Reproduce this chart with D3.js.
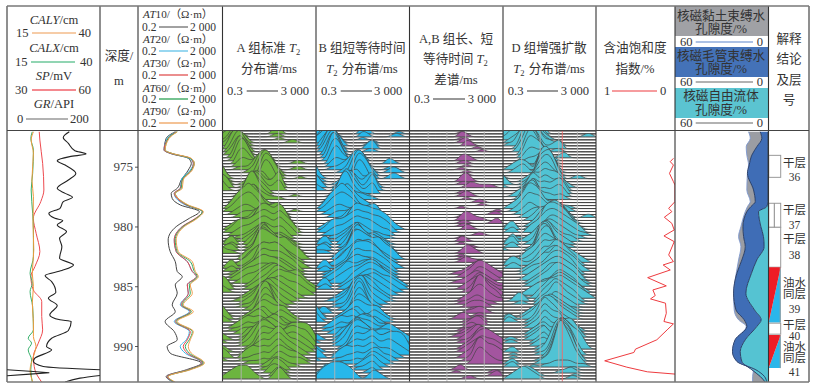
<!DOCTYPE html>
<html>
<head>
<meta charset="utf-8">
<script src="https://cdn.jsdelivr.net/npm/d3@7"></script>
<style>
body { margin: 0; background: #fff; }
text { font-family: "Liberation Serif", "Noto Sans CJK SC", serif; fill: #333; }
</style>
</head>
<body>
<script>
// log curves
var grDepth = [972.08,972.55,973.05,973.66,973.94,974.16,974.5,974.86,975.56,976.11,976.81,977.23,977.56,977.92,978.48,978.9,979.32,979.51,979.87,980.43,980.99,981.69,982.66,983.22,983.69,984.11,984.61,985.5,986,986.62,987.4,987.81,987.95,988.7,989.35,990.04,990.32,991.02,991.3,991.71,991.99];
var grValues = [134,121,132,146,170,135,108,125,148,132,108,125,141,121,114,90,103,120,108,128,113,118,113,143,118,82,96,105,89,108,92,114,138,132,96,85,96,60,57,78,200];
// GR runs off scale near the bottom and wraps round the track
var grWrapDepth = [991.99,992.13,992.24,992.35,992.49];
var grWrapValues = [0,57,91,49,0];
var grEndDepth = [992.47,992.69,993.02];
var grEndValues = [200,157,125];

var spDepth = [972.08,972.77,974.72,976.95,977.92,979.32,980.57,982.1,983.36,984.19,985.31,986.28,987.53,988.65,989.76,990.88,991.99,993.02];
var spValues = [40.4,40.6,41.5,41.9,40.9,38.5,39.4,40.6,39,37.7,38.5,41.2,41.2,41.5,40.1,38.5,39,41.2];

var calxDepth = [972.08,972.63,973.61,975.56,976.95,978.9,980.29,982.52,983.91,984.75,985.45,986.7,988.65,989.35,989.76,990.32,991.16,991.99,993.02];
var calxValues = [21.8,21.4,22.1,21.9,21.5,21.9,22.1,22.1,21.2,21.8,21.2,21.9,22.1,20.7,21.6,20.7,21.6,21.4,21.8];
var calyDepth = [972.08,972.77,973.89,976.11,977.51,979.74,981.96,983.91,985.03,986.42,988.09,989.21,990.04,990.88,991.99,993.02];
var calyValues = [22.1,21.5,22.1,21.7,22.1,22,22.2,21.8,22.1,21.8,22.1,22.1,22.8,22.1,21.2,21.9];

var atDepth = [972.08,972.63,973.61,973.89,974.3,974.72,975.28,976.11,976.81,977.23,977.65,978.2,978.76,979.32,980.01,981.13,982.1,982.94,983.77,984.19,984.89,985.58,986.56,987.12,987.95,988.79,989.48,990.04,990.6,991.43,991.99,992.55,993.02];
var at10 = [11.6,4.3,3.46,6.68,48,66.8,48,22.3,14.4,7.46,8.32,20,161,53.6,12.9,5.36,6.68,11.6,14.4,24.9,11.6,14.4,8.32,11.6,3.86,10.4,14.4,4.8,6.68,200,38.6,4.3,9.28];
var at20 = [12.9,4.8,3.46,7.46,53.6,83.2,59.8,22.3,20,10.4,12.9,34.6,223,116,24.9,10.4,12.9,43,74.6,116,43,48,20,53.6,10.4,53.6,38.6,20,34.6,223,48,4.8,9.28];
var at30 = [12.9,5.36,3.46,7.46,59.8,83.2,66.8,24.9,20,10.4,14.4,38.6,223,104,24.9,10.4,12.9,43,74.6,116,43,48,22.3,59.8,11.6,59.8,43,27.8,43,223,48,4.8,10.4];
var at60 = [14.4,5.36,3.86,8.32,59.8,92.8,66.8,24.9,22.3,11.6,16.1,43,223,116,27.8,11.6,14.4,59.8,92.8,129,53.6,59.8,24.9,66.8,12.9,74.6,53.6,34.6,53.6,249,53.6,5.36,10.4];
var at90 = [14.4,5.98,3.86,8.32,66.8,92.8,74.6,27.8,24.9,11.6,16.1,48,249,129,31,12.9,16.1,74.6,104,144,59.8,74.6,27.8,83.2,14.4,83.2,59.8,48,66.8,278,59.8,5.36,11.6];

var oilDepth = [974.3,974.58,974.86,975.56,976.25,976.53,977.79,977.92,978.48,978.76,979.23,979.74,980.29,980.79,981.27,982.38,982.94,983.22,983.64,984.28,984.97,985.31,985.78,986.06,986.42,987.26,987.95,988.15,988.59,989.48,990.26,990.54,991.24,991.77,992.16,992.35];
var oilValues = [0.02,0.06,0.02,0.07,0.02,0,0,0,0.08,0.04,0.135,0.04,0.01,0.14,0.01,0.08,0.02,0.15,0.06,0.346,0.11,0.28,0.25,0.31,0.12,0.11,0.14,0.02,0.09,0.23,0.5,0.52,0.89,0.61,0.35,0];

// NMR porosity, cumulative from the right edge
var nmrDepth = [972.08,972.63,973.33,974.03,974.86,975.56,976.95,977.92,978.34,978.76,980.01,980.85,981.69,982.8,983.91,985.58,986.98,987.81,988.37,989.48,990.46,991.29,991.99,992.55,993.02];
var nmrFree = [0.4,0.4,0.4,0.4,0.4,0.4,0.4,0.4,1.1,6.4,4.9,3.2,2.8,7.5,10.9,14.5,9,4.7,7.5,14.9,18.1,17.1,10.7,5.3,2.1];
var nmrCapillary = [5.3,4.3,7.5,10.7,12.4,13.5,9.6,8.5,11.3,13.9,16.4,16,14.9,17.1,20.3,22.4,20.9,15.6,13.9,21.4,23.1,20.3,8.1,2.6,1.1];
var nmrClay = [12.8,11.7,14.3,13.9,12.8,13.5,13.9,11.7,13.5,14.9,17.7,19.2,17.7,19.2,20.7,22.4,22,19.2,14.3,21.4,23.1,20.3,9.6,10.2,10.2];

// interpretation layers
var layerTop = [974.05,978.06,980.07,983.41,988.09,989.07];
var layerBottom = [975.89,980.07,983.41,988.04,989.01,991.85];
var layerKind = ["dry","dry","dry","oilwater","dry","oilwater"];
var depthTicks = [975,980,985,990];
var t2Grid = [1.893,11.95,75.4,475.5];

// T2 spectra: one string per sampled depth (0.25 m apart), one hex digit of amplitude per T2 bin
var specA = ["0110000000110000000","1221000000220000000","1232100000110000000","2343200000010000000","1254310000000110000","1254310000000000000","0265410000000000000","0147520000000000000","0136520000000000000","0027630000000000000","0016741022000000000","0004531131000011000","0002322453100000000","0001113565200011000","0000012676310000000","3000001587420000000","4100000387520001000","2100000276300000000","3200123441230000000","4300135532360000000","3100146531240000000","0000267431000000000","0001378421000010000","0001235321110000000","0012346310000000000","0023457421000000000","0135686521000000000","0124565310000010000","0012332110221000000","0001222333432000000","0000113454553000000","0000012565664100000","0011123676775200000","0123334787686310000","0124445676575420000","0012334565464310000","0001123454343100000","0120123563232100000","0230023574332110000","0120013685443210000","1220012686534320000","2110002797645431000","0000123897656432000","0000234998767543100","0000134565654321000","0001235676765321000","0230123787876432100","0120023676665431000","0011234565554321000","0012345676654321000","0012344555443210000","0001233456654332100","3200012456765443210","4300012345776565321","2100001235676655321","0000012335565443210","0000123456654321000","0001123567543210000","0000123676532100000","0000112587421000000","0000012698310000000","0000001587422000000","3100012476533100000","4200123565444210000","2100123453243210000","0001234542132100000","0012343432231000000","0011232333542222100","0001222345653333310","0000133456764444430","2100124567654555541","1000135686544666652","0000124787645665531","0000012676654554320","2100012565786443210","1000123454675432100","3200234343564321000","1000112232454332100","0000011121343222100","0000000012332110000","0000100011432000000","0011210002321000000","0123321000231000000","1234442100242000000"];
var specB = ["0120000002100000000","1231000003200000100","2343100002100001100","1354200001000000000","2355310000010000000","0246420000120000000","0157510000230000000","0147620000110000000","0037620000000000000","0028730000000000000","0016741023000000000","0004632132000021000","0002322453100000000","0001123565200011000","0000012676310012100","2000001587420000000","4100000387520012100","2100001276300000000","3100124452330000000","4200135532451000000","2100246631361000000","0000268531240000000","0001378421100000000","0001235322110000000","0012346321000000000","0023457532100000000","0135686521000000000","0124565421000000000","0012332210121000000","0001222343232000000","0000113454454100000","0000012565565210000","0011123676676321000","0123334787766542100","0124445676655431000","0012334565543220000","0001123454322110000","0120123562232100000","0230023574332110000","0120013685443210000","1220012686534320000","1110002797645431000","0000123887656432000","0000234898767543100","0000134576764321000","0001235687765321000","0230123788876432100","0120023676665431000","0011234565554321000","0012345676654321000","0012346556665321000","0001234556776432100","0230012456776543210","0120012345665443210","0000001235565432100","0000012346654321000","0000123467653210000","0001123678543210000","0000123789532100000","0000112698421000000","0110012598310000000","0220001487422000000","2100012476533100000","4200123565444210000","3100123453243210000","0001234542132100000","0012343432231000000","0011232343542221000","0001222456653332100","0000133567664443210","2100124676654454321","1000135686544565432","0000124787645554321","0000012676654455431","2100012565675566652","1000123454564454321","3200234343453332100","1000112232344221000","0000011121343210000","0000000012342100000","0000200011231000000","0121321000120000000","1243432100010000000","1345554310132100000"];
var specC = ["0000000000000000000","0000000000100000000","0000000000210000000","0000000000100000000","0000000000120000000","0000000000021000000","0000000000000100000","0000000000000010000","0000000000000000000","0000000000010000000","0000000000221000000","0000000000110000000","0000000000010000000","0000000000100000000","0000000000010000000","0000000000010000000","0000000000000000000","0000000000231000000","0000000000110000000","0000000000012111100","0000000000000000000","0000000000110000000","0000000000121000000","0000000000010000000","0000000000000110000","0000000000000010000","0000000000100000000","0000000000000000010","0000000000000000110","0000000000111000000","0000000000232110000","0000000000110000120","0000000000110000000","0000000000021000000","0000000000000000000","0000000000000110000","0000000000100000000","0000000000210000000","0000000000100000000","0000000000001000000","0000000000011000000","0000000000132100000","0000000000100000000","0000000000110000000","0000000000121100000","0000000000000000000","0000000000001221000","0000000000012332000","0000000001123443211","0000000000123554321","0000000000012443210","0000000001123432100","0000000000012443211","0000000000123443211","0000000000012553210","0000000000001664321","0000000000012774320","0000000000123553211","0000000000112321100","0000000000012221000","0000000000001110000","0000000000011221000","0000000000100110000","0000000001220110000","0000000000011220000","0000000000012320000","0000000000012100000","0000000000110000000","0000000000122221000","0000000001123432100","0000000000123543210","0000000000112454321","0000000000012565432","0000000000123566543","0000000000123454432","0000000000012553321","0000000000123664432","0000000000012775543","0000000000001553211","0000000000000000000","0000000001200000000","0000000001000000110","0000000000000000120","0000000000011000000"];
var specD = ["0120133220000000000","1231244320000000000","2232355420000000110","1243465421000000000","0123576421000000000","0114687522120000000","0002786411230000000","0002597410110000000","0000487420000000000","0000376530012000000","0000244342100000000","0000122353100000000","0012210465200000000","0123320576300000000","0012310687410000000","0000000798510000000","1000012789620011000","2000123688510000000","3100124576431000000","1000135465542100000","0000146354343000000","0001235343453000000","0012346232342000000","0001457322121000000","0001467211000000000","0012578421100000000","0123587632211100000","0012465532222100000","0001243222342000000","0000123334543100110","0000012445653200000","0000001356764210000","0110012467875310000","0230012378876421000","0120023467765432000","0000001346654321100","0001012456543211000","0130123566432210000","0230012677432100000","0120001687321100000","1000012787321000000","0000012898432100000","0000123799543210000","0000234687654321000","0121123576765432100","0232112465876431000","0121012356765321000","0000123465876542100","0000123346776531000","0000012345665431000","0000123456776542000","0000012346665431100","0000012345776542100","0000001233565431000","0000012344565432100","0000123445676543100","0002101346676543210","0013200245765431000","0001100234764321000","0000000123543210000","0000001235432110000","0000012346543210000","0100123466543210000","0210123577643210000","0210012586532100000","0000012475441000000","0000012364331110000","0000001253243321000","0000012342254531000","0000012341265642000","0110012352376531000","0110001241387531000","0000001231498641000","0000000121499765200","01200001259a9630000","00100001138ba852000","00100000137ca941000","00000001137da952000","01200001238eb842000","0120001011222211100","0000010000000110000","0000210000011210000","0012332100000010000","0123432100000110000"];

var width = 818, height = 389;
var plotTop = 131, plotBottom = 382;
var cols = [7,100,138,222.5,316,409.5,503,596,675,768.5,809];

var svg = d3.select("body").append("svg")
    .attr("width", width)
    .attr("height", height)
    .style("display", "block");

var y = d3.scaleLinear().domain([975,990]).range([166.7,346]);

// helper for header text, *x* is italic and _2 a subscript
function label(x, yy, str, anchor, size) {
    var t = svg.append("text").attr("x", x).attr("y", yy)
        .attr("text-anchor", anchor || "middle")
        .style("font-size", (size || 12.6) + "px");
    str.split(/(\*[^*]+\*|_\d)/).forEach(function(part) {
        if (!part) return;
        var s = t.append("tspan");
        if (part[0] == "*") {
            s.style("font-style", "italic").text(part.slice(1,-1));
        } else if (part[0] == "_") {
            s.attr("dy", 3).style("font-size", "8.5px").text(part.slice(1));
            t.append("tspan").attr("dy", -3).text("\u200a");
        } else {
            s.text(part);
        }
    });
}
function rule(x1, x2, yy, color, w) {
    svg.append("line").attr("x1", x1).attr("x2", x2).attr("y1", yy).attr("y2", yy)
        .attr("stroke", color).attr("stroke-width", w || 1.1);
}
// one "low --- high" scale row in the header
function scaleRow(lo, xLo, x1, x2, hi, xHi, yy, color, w, size) {
    label(xLo, yy, lo, "start", size);
    rule(x1, x2, yy - 4, color, w);
    label(xHi, yy, hi, "start", size);
}

var defs = svg.append("defs");
function clipFor(id, x0, x1) {
    defs.append("clipPath").attr("id", id).append("rect")
        .attr("x", x0).attr("y", plotTop).attr("width", x1 - x0).attr("height", plotBottom - plotTop);
}

// ---- track 1: caliper, SP, GR
var grX = d3.scaleLinear().domain([0,200]).range([cols[0],cols[1]]);
var spX = d3.scaleLinear().domain([30,60]).range([cols[0],cols[1]]);
var calX = d3.scaleLinear().domain([15,40]).range([cols[0],cols[1]]);
clipFor("clip1", cols[0], cols[1]);
var g1 = svg.append("g").attr("clip-path", "url(#clip1)");

function curve(g, depths, values, xs, color, w, shape) {
    var line = d3.line()
        .x(function(d) { return xs(values[d]); })
        .y(function(d) { return y(depths[d]); })
        .curve(shape || d3.curveMonotoneY);
    g.append("path").datum(d3.range(depths.length))
        .attr("d", line).attr("fill", "none")
        .attr("stroke", color).attr("stroke-width", w);
}
curve(g1, spDepth, spValues, spX, "#ee4a4f", 1);
curve(g1, calxDepth, calxValues, calX, "#35b06a", 1);
curve(g1, calyDepth, calyValues, calX, "#ee9a3c", 1);
curve(g1, grDepth, grValues, grX, "#222", 1.1);
curve(g1, grWrapDepth, grWrapValues, grX, "#222", 1.1, d3.curveLinear);
curve(g1, grEndDepth, grEndValues, grX, "#222", 1.1);

// ---- depth axis
svg.append("g")
    .attr("transform", "translate(" + cols[2] + ",0)")
    .call(d3.axisLeft(y).tickValues(depthTicks).tickSize(3).tickPadding(2).tickFormat(d3.format("d")))
    .call(function(g) {
        g.select(".domain").remove();
        g.selectAll("line").attr("stroke", "#555");
        g.selectAll("text").style("font-size", "13px").style("fill", "#444");
    });

// ---- track 3: resistivity
var atX = d3.scaleLog().domain([0.2,2000]).range([cols[2],cols[3]]);
clipFor("clip3", cols[2], cols[3]);
var g3 = svg.append("g").attr("clip-path", "url(#clip3)");
curve(g3, atDepth, at10, atX, "#444", 1);
curve(g3, atDepth, at20, atX, "#35b4e6", 1);
curve(g3, atDepth, at30, atX, "#e8424a", 1);
curve(g3, atDepth, at60, atX, "#2fa85f", 1);
curve(g3, atDepth, at90, atX, "#f0a050", 1);

// ---- T2 spectra tracks
var rowDepths = d3.range(972, 993, 0.25);
var ampY = d3.scaleLinear().domain([0,9]).range([0,31]);

function spectrum(id, rows, x0, x1, color) {
    var xs = d3.scaleLog().domain([0.3,3000]).range([x0,x1]);
    var binT2 = d3.range(19).map(function(i) { return xs.invert(x0 + (x1 - x0) * i / 18); });
    clipFor(id, x0, x1);
    var g = svg.append("g").attr("clip-path", "url(#" + id + ")");
    var area = d3.area()
        .x(function(d) { return xs(d.t2); })
        .y0(function(d) { return d.base; })
        .y1(function(d) { return d.base - ampY(d.amp); })
        .curve(d3.curveBasis);
    var rowG = g.selectAll("g").data(rows).enter().append("g");
    rowG.append("line")
        .attr("x1", x0).attr("x2", x1)
        .attr("y1", function(d, i) { return y(rowDepths[i]); })
        .attr("y2", function(d, i) { return y(rowDepths[i]); })
        .attr("stroke", "#3a3a3a").attr("stroke-width", 0.85);
    rowG.append("path")
        .attr("d", function(d, i) {
            var base = y(rowDepths[i]);
            return area(binT2.map(function(t, k) {
                return { t2: t, base: base, amp: parseInt(d[k], 16) || 0 };
            }));
        })
        .attr("fill", color)
        .attr("stroke", "#444")
        .attr("stroke-width", 0.7);
    // grid shows through the fill
    g.selectAll(".grid").data(t2Grid).enter().append("line")
        .attr("class", "grid")
        .attr("x1", function(d) { return xs(d); })
        .attr("x2", function(d) { return xs(d); })
        .attr("y1", plotTop).attr("y2", plotBottom)
        .attr("stroke", "#b5b5b5").attr("stroke-width", 1.2).attr("opacity", 0.75);
}
spectrum("clipA", specA, cols[3], cols[4], "#6cb53f");
spectrum("clipB", specB, cols[4], cols[5], "#27b7ea");
spectrum("clipC", specC, cols[5], cols[6], "#a3559f");
spectrum("clipD", specD, cols[6], cols[7], "#50c3d4");
// cut-off line in the D track
svg.append("line").attr("x1", 562.3).attr("x2", 562.3).attr("y1", plotTop).attr("y2", plotBottom)
    .attr("stroke", "#ef6a6a").attr("stroke-width", 0.9);

// ---- oil saturation index
var oilX = d3.scaleLinear().domain([1,0]).range([cols[7],cols[8]]);
clipFor("clipOil", cols[7], cols[8]);
var gOil = svg.append("g").attr("clip-path", "url(#clipOil)");
curve(gOil, oilDepth, oilValues, oilX, "#ee3b3f", 1, d3.curveLinear);

// ---- NMR porosity
var nmrX = d3.scaleLinear().domain([60,0]).range([cols[8],cols[9]]);
clipFor("clipNmr", cols[8], cols[9]);
var gNmr = svg.append("g").attr("clip-path", "url(#clipNmr)");
function band(inner, outer, color) {
    var area = d3.area()
        .y(function(d) { return y(nmrDepth[d]); })
        .x0(function(d) { return nmrX(outer ? outer[d] : 0); })
        .x1(function(d) { return nmrX(inner[d]); })
        .curve(d3.curveMonotoneY);
    gNmr.append("path").datum(d3.range(nmrDepth.length)).attr("d", area).attr("fill", color);
}
band(nmrClay, nmrCapillary, "#9b9da3");
band(nmrCapillary, nmrFree, "#3f6db6");
band(nmrFree, null, "#55c3d2");
curve(gNmr, nmrDepth, nmrClay, nmrX, "#7d97cf", 0.9);
curve(gNmr, nmrDepth, nmrCapillary, nmrX, "#24385f", 0.9);
curve(gNmr, nmrDepth, nmrFree, nmrX, "#24385f", 0.9);

// ---- interpretation column
var layerX0 = 768.7, layerX1 = 780.7;
layerTop.forEach(function(t, i) {
    var y0 = y(t), y1 = y(layerBottom[i]);
    if (layerKind[i] == "oilwater") {
        svg.append("path").attr("fill", "#2ab6ea")
            .attr("d", d3.line()([[layerX1,y0],[layerX1,y1],[layerX0,y1]]));
        svg.append("path").attr("fill", "#ee1c25")
            .attr("d", d3.line()([[layerX0,y0],[layerX1,y0],[layerX0,y1]]));
    } else {
        svg.append("rect").attr("x", layerX0).attr("y", y0)
            .attr("width", layerX1 - layerX0).attr("height", y1 - y0)
            .attr("fill", "#fff").attr("stroke", "#999").attr("stroke-width", 1);
    }
});
svg.append("line").attr("x1", 774.3).attr("x2", 774.3).attr("y1", y(978.06)).attr("y2", y(980.07))
    .attr("stroke", "#888");
svg.append("rect").attr("x", layerX1 - 1).attr("y", y(983.41)).attr("width", 1).attr("height", y(988.04) - y(983.41)).attr("fill", "#999");
svg.append("rect").attr("x", layerX1 - 1).attr("y", y(989.07)).attr("width", 1).attr("height", y(991.85) - y(989.07)).attr("fill", "#999");

[["干层",167],["36",181],["干层",214],["37",229],["干层",243],["38",259],["油水",287],["同层",298],["39",313],["干层",329],["40",340],["油水",351],["同层",362],["41",376]]
    .forEach(function(l) { label(794.5, l[1], l[0], "middle", 11.5); });

// ---- header
[["#a0a1a5",6,36],["#4472b8",47,77],["#5bc4d1",88,118]].forEach(function(b) {
    svg.append("rect").attr("x", cols[8]).attr("y", b[1])
        .attr("width", cols[9] - cols[8]).attr("height", b[2] - b[1]).attr("fill", b[0]);
});

label(54, 24, "*CALY*/cm");
scaleRow("15", 16, 32, 76, "40", 78.5, 37, "#ee9a50");
label(54, 52, "*CALX*/cm");
scaleRow("15", 15, 31, 75, "40", 80, 66, "#6cc79a", 1.5);
label(54, 80, "*SP*/mV");
scaleRow("30", 15, 32, 76, "60", 78.5, 94, "#f0626a", 1.4);
label(54, 108, "*GR*/API");
scaleRow("0", 17, 26, 68, "200", 70, 123, "#666", 1.2);

label(119, 60, "深度/");
label(119, 85, "m");

[["*AT*10/（Ω·m）",18,31,"#444"],["*AT*20/（Ω·m）",43,55,"#6cc6ea"],["*AT*30/（Ω·m）",67,79,"#e35d5d"],["*AT*60/（Ω·m）",92,103,"#3ba860"],["*AT*90/（Ω·m）",115,127,"#f0a868"]]
    .forEach(function(r, i) {
        label(178, r[1], r[0], "middle", 11.2);
        scaleRow("0.2", 142, 159, 188, "2 000", 190, r[2], r[3], i == 0 ? 1 : 1.4, 11.5);
    });

label(269, 52, "A 组标准 *T*_2");
label(269, 73, "分布谱/ms");
scaleRow("0.3", 227, 246.7, 278, "3 000", 280.7, 95, "#444");

label(362, 52, "B 组短等待时间");
label(362, 73, "*T*_2 分布谱/ms");
scaleRow("0.3", 321, 340.7, 372, "3 000", 374, 95, "#444");

label(456, 43, "A,B 组长、短");
label(456, 63, "等待时间 *T*_2");
label(456, 84, "差谱/ms");
scaleRow("0.3", 414, 433, 465, "3 000", 467.7, 103, "#444");

label(549, 52, "D 组增强扩散");
label(549, 73, "*T*_2 分布谱/ms");
scaleRow("0.3", 507.7, 527, 558, "3 000", 560.7, 95, "#444");

label(635, 52, "含油饱和度");
label(635, 73, "指数/%");
scaleRow("1", 604, 612, 657, "0", 660, 95, "#ee3b3f");

label(721, 19.5, "核磁黏土束缚水");
label(721, 33, "孔隙度/%");
scaleRow("60", 680, 695.7, 753, "0", 756.7, 46, "#5b84c9");
label(721, 60, "核磁毛管束缚水");
label(721, 73, "孔隙度/%");
scaleRow("60", 680, 695.7, 753, "0", 756.7, 86, "#666");
label(721, 100, "核磁自由流体");
label(721, 114, "孔隙度/%");
scaleRow("60", 680, 695.7, 753, "0", 756.7, 127, "#666");

label(789, 43, "解释");
label(789, 63, "结论");
label(789, 84, "及层");
label(789, 104, "号");

// ---- table frame
cols.forEach(function(x) {
    svg.append("line").attr("x1", x).attr("x2", x).attr("y1", 6).attr("y2", plotBottom)
        .attr("stroke", "#333").attr("stroke-width", 1.1);
});
rule(cols[0], cols[10], 6, "#777", 1.6);
rule(cols[0], cols[10], 130.5, "#444", 1.1);
rule(cols[0], cols[10], plotBottom, "#777", 1.6);
</script>
</body>
</html>
